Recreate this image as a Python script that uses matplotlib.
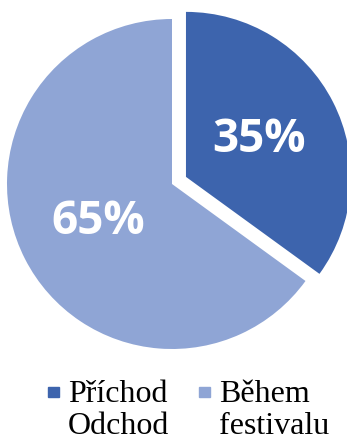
import numpy as np
import matplotlib
matplotlib.use("Agg")
import matplotlib.pyplot as plt
from matplotlib.patches import Rectangle

labels = ["Příchod\nOdchod", "Během\nfestivalu"]
shares = [35, 65]
colors = ["#3D64AD", "#8FA5D5"]
explode = [0.095, 0.0]

W, H = 347, 441
fig = plt.figure(figsize=(W / 100, H / 100), dpi=100)
ax = fig.add_axes([0, 0, 1, 1])

R = 165.0                     # pie radius in pixels
cx, cy = 172.0, 184.0         # pie centre (px from left / top)
wedges, texts = ax.pie(shares, colors=colors, explode=explode, startangle=90,
                       counterclock=False, radius=1.0,
                       wedgeprops=dict(linewidth=0))
for w, v in zip(wedges, shares):
    th = np.radians((w.theta1 + w.theta2) / 2)
    x = w.center[0] + 0.5 * np.cos(th)
    y = w.center[1] + 0.5 * np.sin(th)
    ax.text(x, y, f"{v}%", ha="center", va="center", color="white",
            fontsize=33, fontweight="bold", family="Open Sans")

ax.set_xlim(-cx / R, (W - cx) / R)
ax.set_ylim(-(H - cy) / R, cy / R)
ax.set_aspect("auto")
ax.axis("off")

# legend drawn by hand: square aligned with the first line of each label
leg_x = [48, 199]
base_y = 402
step = 32
for lx, lab, col in zip(leg_x, labels, colors):
    fig.patches.append(Rectangle((lx / W, 1 - 397 / H), 11 / W, 10 / H,
                                 transform=fig.transFigure, color=col))
    for i, line in enumerate(lab.split("\n")):
        fig.text((lx + 20) / W, 1 - (base_y + i * step) / H, line,
                 ha="left", va="baseline", fontsize=23,
                 family="Liberation Serif", color="black")

fig.savefig("out.png", dpi=100)
